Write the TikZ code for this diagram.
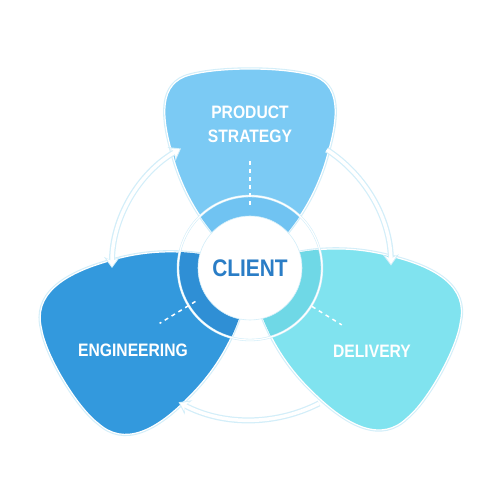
\documentclass[tikz,border=0pt]{standalone}
\usepackage{fontspec}
\setmainfont{Liberation Sans}
\newfontfamily\labelfont[FakeStretch=0.87]{Liberation Sans}
\usetikzlibrary{arrows.meta}

\definecolor{topblue}{HTML}{7BCAF4}
\definecolor{leftblue}{HTML}{3399DD}
\definecolor{rightblue}{HTML}{80E3EF}
\definecolor{topband}{HTML}{70C3F2}
\definecolor{leftband}{HTML}{2F8FD5}
\definecolor{rightband}{HTML}{6FD8E6}
\definecolor{arcedge}{HTML}{D3EEF9}
\definecolor{clientblue}{HTML}{2A7DC6}

% lobes, pointing up, tip in the centre
\newcommand{\toplobe}{(0,0) .. controls (-35,25) and (-65,65) .. (-78,115)
  .. controls (-88,150) and (-92,185) .. (-60,193)
  .. controls (-30,201) and (30,201) .. (60,193)
  .. controls (92,185) and (88,150) .. (78,115)
  .. controls (65,65) and (35,25) .. cycle}
\newcommand{\sidelobe}{(0,0) .. controls (-35,25) and (-65,65) .. (-78,115)
  .. controls (-92,165) and (-88,200) .. (-55,210)
  .. controls (-30,220) and (30,220) .. (55,210)
  .. controls (88,200) and (92,165) .. (78,115)
  .. controls (65,65) and (35,25) .. cycle}

\begin{document}
\begin{tikzpicture}[x=1pt,y=1pt]

	\tikzset{
		lobe/.style={fill=#1, draw=white, line width=1.2pt,
			preaction={draw=arcedge, line width=3.4pt}},
		flowedge/.style={draw=arcedge, line width=6pt},
		flow/.style={draw=white, line width=3.5pt},
		dashline/.style={white, line width=1.5pt, dash pattern=on 4pt off 4pt},
		lobelabel/.style={text=white, align=center,
			font=\labelfont\bfseries\fontsize{18}{24}\selectfont}
	}

	\useasboundingbox (-250,-232) rectangle (250,268);

	% lobes
	\path[lobe=topblue] \toplobe;
	\path[lobe=leftblue, rotate=121] \sidelobe;
	\path[lobe=rightblue, rotate=-119] \sidelobe;

	% ring band inside each lobe
	\begin{scope}
		\clip \toplobe;
		\fill[topband] (0,0) circle (72);
	\end{scope}
	\begin{scope}
		\clip[rotate=121] \sidelobe;
		\fill[leftband] (0,0) circle (72);
	\end{scope}
	\begin{scope}
		\clip[rotate=-119] \sidelobe;
		\fill[rightband] (0,0) circle (72);
	\end{scope}
	\draw[arcedge, line width=2.4pt] (0,0) circle (72);
	\draw[white, line width=1.2pt] (0,0) circle (72);

	% client
	\node[circle, fill=white, draw=arcedge, line width=0.6pt, minimum size=104pt,
		inner sep=0pt, text=clientblue,
		font=\labelfont\bfseries\fontsize{24}{28}\selectfont] (client) at (0,0) {CLIENT};

	% dashed ties
	\coordinate (prodin) at (90:63);
	\coordinate (prodout) at (90:110);
	\coordinate (engin) at (211.5:64);
	\coordinate (engout) at (211.5:106);
	\coordinate (delin) at (-31.8:73);
	\coordinate (delout) at (-31.8:108);
	\draw[dashline] (prodin) -- (prodout);
	\draw[dashline] (engin) -- (engout);
	\draw[dashline] (delin) -- (delout);

	% cycle arcs
	\coordinate (engtop) at (180:138);
	\coordinate (prodright) at (57:141);
	\coordinate (delright) at (-63:152);
	\draw[flowedge, {Stealth[length=11pt,width=16pt]}-{Stealth[length=11pt,width=16pt]}] (engtop) arc[start angle=180, end angle=120, radius=138];
	\draw[flow, {Stealth[length=8pt,width=11pt]}-{Stealth[length=8pt,width=11pt]}, shorten >=1.5pt, shorten <=1.5pt] (engtop) arc[start angle=180, end angle=120, radius=138];
	\draw[flowedge, -{Stealth[length=11pt,width=16pt]}] (prodright) arc[start angle=57, end angle=1, radius=141];
	\draw[flow, -{Stealth[length=8pt,width=11pt]}, shorten >=1.5pt] (prodright) arc[start angle=57, end angle=1, radius=141];
	\draw[flowedge, -{Stealth[length=11pt,width=16pt]}] (delright) arc[start angle=-63, end angle=-118, radius=152];
	\draw[flow, -{Stealth[length=8pt,width=11pt]}, shorten >=1.5pt] (delright) arc[start angle=-63, end angle=-118, radius=152];

	% labels
	\node[lobelabel] (product) at (0,144) {PRODUCT\\STRATEGY};
	\node[lobelabel] (engineering) at (-117,-82) {ENGINEERING};
	\node[lobelabel] (delivery) at (122,-83) {DELIVERY};

\end{tikzpicture}
\end{document}
